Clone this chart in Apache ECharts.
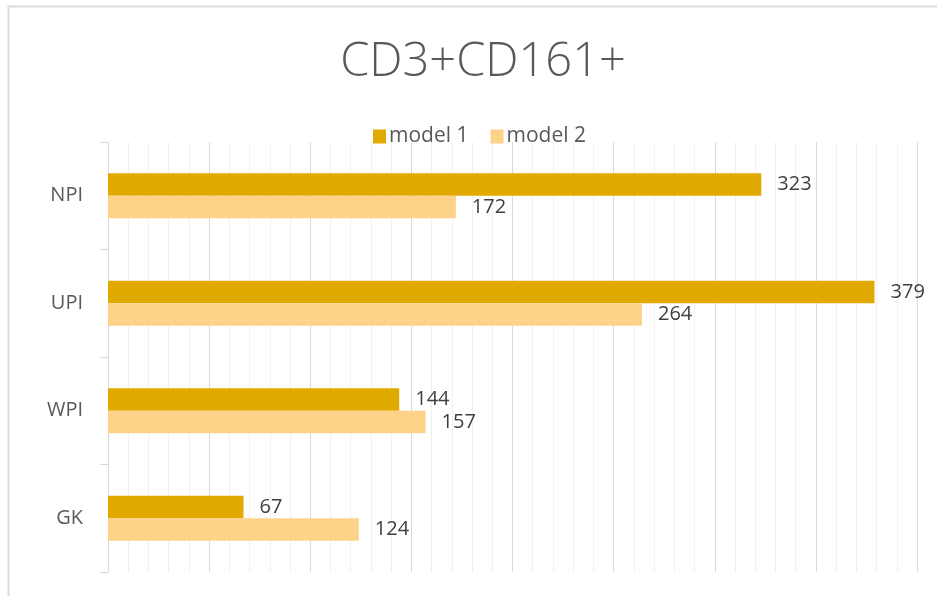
<!DOCTYPE html>
<html>
<head>
<meta charset="utf-8">
<script src="https://cdn.jsdelivr.net/npm/echarts@6/dist/echarts.min.js"></script>
<style>
  html, body { margin: 0; padding: 0; background: #fff; }
  #main { width: 937px; height: 596px; }
</style>
</head>
<body>
<div id="main"></div>
<script>
// data
var categories = ['NPI', 'UPI', 'WPI', 'GK'];
var model1 = [323, 379, 144, 67];
var model2 = [172, 264, 157, 124];
var seriesNames = ['model 1', 'model 2'];

var chart = echarts.init(document.getElementById('main'));

var labelStyle = {
  show: true,
  position: 'right',
  distance: 16,
  fontFamily: 'Open Sans',
  fontSize: 20,
  color: '#404040'
};

var option = {
  backgroundColor: '#fff',
  animation: false,
  title: {
    text: 'CD3+CD161+',
    left: 478,
    textAlign: 'center',
    top: 34,
    textStyle: {
      fontFamily: 'Open Sans',
      fontWeight: 300,
      fontSize: 47,
      color: '#595959'
    }
  },
  legend: {
    data: seriesNames,
    left: 368,
    top: 121,
    icon: 'rect',
    itemWidth: 13,
    itemHeight: 14,
    itemGap: 22,
    textStyle: {
      fontFamily: 'Open Sans',
      fontSize: 21,
      color: '#595959',
      padding: [0, 0, 0, -2]
    }
  },
  graphic: [{
    type: 'rect',
    silent: true,
    shape: { x: 8.5, y: 6.5, width: 960, height: 620 },
    style: { fill: 'none', stroke: '#dcdcdc', lineWidth: 2 }
  }],
  grid: {
    left: 108,
    right: 20,
    top: 142,
    bottom: 24,
    containLabel: false
  },
  xAxis: {
    type: 'value',
    min: 0,
    max: 400,
    interval: 50,
    axisLine: { show: false },
    axisTick: { show: false },
    axisLabel: { show: false },
    splitLine: { show: true, lineStyle: { color: '#d9d9d9', width: 1 } },
    minorTick: { show: false, splitNumber: 5 },
    minorSplitLine: { show: true, lineStyle: { color: '#f0f0f0', width: 1 } }
  },
  yAxis: {
    type: 'category',
    data: categories,
    inverse: true,
    axisLine: { show: true, lineStyle: { color: '#d9d9d9', width: 1 } },
    axisTick: { show: true, length: 8, lineStyle: { color: '#d9d9d9' } },
    axisLabel: {
      fontFamily: 'Open Sans',
      fontSize: 20,
      color: '#595959',
      margin: 25
    },
    splitLine: { show: false }
  },
  series: [{
    name: seriesNames[0],
    type: 'bar',
    data: model1,
    barWidth: 22.5,
    barGap: '0%',
    itemStyle: { color: '#e1aa00' },
    label: labelStyle
  }, {
    name: seriesNames[1],
    type: 'bar',
    data: model2,
    barWidth: 22.5,
    barGap: '0%',
    itemStyle: { color: '#ffd28a' },
    label: labelStyle
  }]
};

chart.setOption(option);
</script>
</body>
</html>
